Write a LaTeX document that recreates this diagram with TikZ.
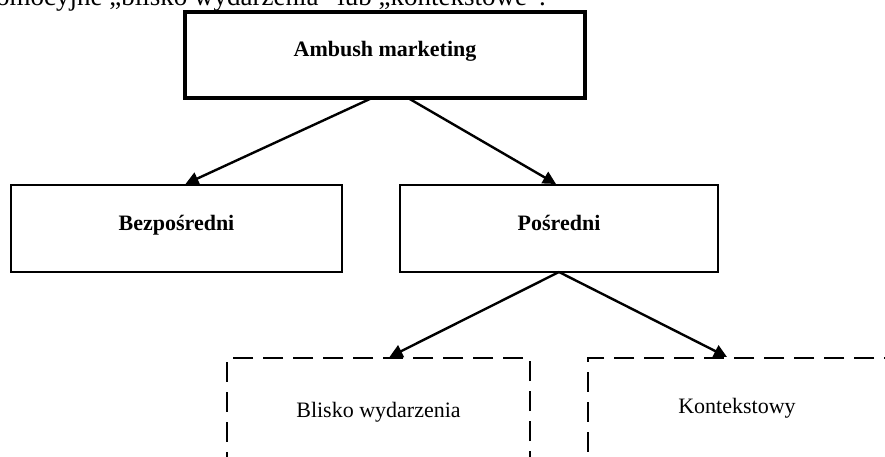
\documentclass[tikz,border=0pt]{standalone}
\usepackage{fontspec}
\setmainfont{Liberation Serif}
\usetikzlibrary{arrows.meta,calc}
\begin{document}
\begin{tikzpicture}[x=1pt,y=-1pt,
  solidbox/.style={draw,line width=2.3pt,rectangle,inner sep=0pt,outer sep=0pt},
  mainbox/.style={draw,line width=4.5pt,rectangle,inner sep=0pt,outer sep=0pt},
  dashbox/.style={draw,line width=2.3pt,rectangle,inner sep=0pt,outer sep=0pt,dash pattern=on 20pt off 10pt},
  boldlabel/.style={font=\fontsize{22}{26}\selectfont\bfseries,anchor=base,inner sep=0pt},
  plainlabel/.style={font=\fontsize{22}{26}\selectfont,anchor=base,inner sep=0pt},
  conn/.style={line width=2.4pt,-{Triangle[length=13pt,width=13pt]}}]
\useasboundingbox (0,0) rectangle (885,457);
\fill[white] (0,0) rectangle (885,457);
% top text line (cut by page edge)
\node[anchor=base east,inner sep=0pt,font=\fontsize{27}{30}\selectfont] (toptext) at (546,6) {omocyjne „blisko wydarzenia” lub „kontekstowe”.};
% boxes
\node[mainbox,minimum width=400pt,minimum height=86pt] (amb) at (385,55) {};
\node[solidbox,minimum width=331pt,minimum height=87pt] (bez) at (176.5,228.5) {};
\node[solidbox,minimum width=318pt,minimum height=87pt] (pos) at (559,228.5) {};
\node[dashbox,minimum width=303pt,minimum height=200pt] (bli) at (378.5,458) {};
\node[dashbox,minimum width=298pt,minimum height=200pt] (kon) at (737,458) {};
% labels
\node[boldlabel] (ambt) at (385,57) {Ambush marketing};
\node[boldlabel] (bezt) at (176.5,230) {Bezpośredni};
\node[boldlabel] (post) at (559,230) {Pośredni};
\node[plainlabel] (blit) at (378.5,417) {Blisko wydarzenia};
\node[plainlabel] (kont) at (737,413) {Kontekstowy};
% connectors
\draw[conn] ($(amb.south)+(-13,0)$) -- ($(bez.north)+(9,-1)$);
\draw[conn] ($(amb.south)+(23,0)$) -- ($(pos.north)+(-3,-1)$);
\draw[conn] (pos.south) -- ($(bli.north)+(11,-1)$);
\draw[conn] (pos.south) -- ($(kon.north)+(-10,-1)$);
\end{tikzpicture}
\end{document}
